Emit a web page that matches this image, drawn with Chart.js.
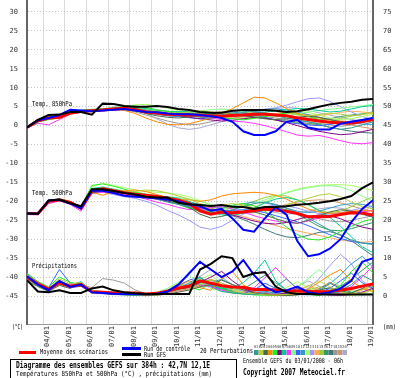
<!DOCTYPE html>
<html>
<head>
<meta charset="utf-8">
<script src="https://cdn.jsdelivr.net/npm/chart.js"></script>
<style>
html, body { margin: 0; padding: 0; background: #fff; overflow: hidden; }
canvas { display: block; }
</style>
</head>
<body>
<canvas id="graphe" width="400" height="378"></canvas>
<script>
// echeances (heures depuis le 03/01 06h)
const heures = [0,12,24,36,48,60,72,84,96,108,120,132,144,156,168,180,192,204,216,228,240,252,264,276,288,300,312,324,336,348,360,372,384];
const jours = ['04/01','05/01','06/01','07/01','08/01','09/01','10/01','11/01','12/01','13/01','14/01','15/01','16/01','17/01','18/01','19/01'];
const heuresJours = [18,42,66,90,114,138,162,186,210,234,258,282,306,330,354,378];
const ticksTemp = [-45,-40,-35,-30,-25,-20,-15,-10,-5,0,5,10,15,20,25,30];
const ticksPrecip = [0,5,10,15,20,25,30,35,40,45,50,55,60,65,70,75];

// Temp. 850hPa
const moyenne850 = [-0.5,1.3,2.0,2.2,3.3,3.7,3.9,4.1,4.4,4.6,4.2,3.6,3.3,3.0,2.9,2.8,2.8,2.6,2.5,2.7,2.8,3.0,3.0,2.8,2.6,2.0,1.6,1.2,0.9,0.7,0.7,1.1,1.6];
const controle850 = [-0.5,1.4,2.0,2.8,4.2,4.0,3.8,4.0,4.2,4.4,4.0,3.6,3.5,3.2,3.0,3.0,2.8,2.5,2.0,1.0,-1.5,-2.5,-2.5,-1.5,1.0,1.5,-0.5,-1.0,-1.0,0.5,1.0,1.5,2.0];
const gfs850 = [-0.5,1.5,2.8,2.9,3.6,3.6,2.9,5.8,5.7,5.2,5.0,5.0,5.2,4.9,4.4,4.1,3.6,3.4,3.4,3.9,4.1,4.1,4.1,3.9,3.6,3.8,4.3,5.0,5.6,6.0,6.3,6.8,7.0];
const membres850 = [
  [-0.6,1.0,1.8,2.4,3.4,3.8,4.0,4.3,4.6,4.9,4.5,4.0,3.6,3.2,3.0,2.5,2.2,2.0,2.4,2.9,3.5,3.8,3.2,2.6,2.0,1.5,1.0,0.4,-0.5,-1.0,-0.6,0.2,1.0],
  [-0.4,1.5,2.2,2.0,3.1,3.6,3.8,4.0,4.5,4.8,4.6,4.1,3.8,3.5,3.3,3.6,3.9,3.6,3.2,3.0,3.4,3.9,4.2,4.0,3.4,2.8,2.6,2.9,3.3,3.0,2.6,2.9,3.4],
  [-0.5,1.2,1.9,2.3,3.5,3.9,4.1,4.2,4.3,4.4,4.0,3.2,2.6,2.2,2.0,2.3,2.6,3.0,3.3,3.1,2.7,2.2,1.8,1.6,1.8,2.2,2.5,2.2,1.6,1.0,0.6,0.9,1.4],
  [-0.5,1.4,2.1,2.2,3.2,3.6,3.8,4.0,4.2,4.0,3.2,2.0,1.0,0.3,0.2,0.5,1.2,2.0,3.2,4.5,6.0,7.5,7.3,6.0,4.5,3.2,2.5,2.0,1.5,1.2,1.0,1.4,2.0],
  [-0.7,0.9,1.6,2.0,3.0,4.0,4.3,4.4,4.6,5.0,5.2,4.8,4.2,3.8,3.4,3.2,3.0,2.6,2.2,1.8,1.5,1.9,2.4,2.9,3.3,3.0,2.4,1.6,1.0,0.6,0.9,1.5,2.2],
  [-0.5,1.3,2.0,2.1,3.3,3.7,3.9,4.2,4.5,4.6,4.3,3.7,3.4,3.1,2.7,2.2,1.8,1.5,1.2,1.4,1.8,2.2,2.0,1.5,0.8,0.0,-0.8,-1.5,-2.0,-2.4,-2.2,-1.6,-1.0],
  [-0.4,1.6,2.3,2.5,3.4,3.7,3.8,4.1,4.4,4.8,4.9,4.5,4.0,3.7,3.6,3.8,3.5,3.0,2.6,2.6,3.0,3.3,3.6,3.9,4.2,4.5,4.4,4.0,3.6,3.8,4.4,5.0,5.3],
  [-0.6,0.6,0.2,1.6,3.0,3.6,3.9,4.0,4.2,4.3,4.1,3.6,3.3,3.0,2.9,2.7,2.4,2.0,1.6,1.2,1.0,0.6,0.0,-0.8,-1.6,-2.5,-2.8,-2.6,-3.2,-4.0,-4.6,-4.8,-4.5],
  [-0.5,1.3,2.0,2.2,3.2,3.9,4.2,4.5,4.8,5.2,5.0,4.4,3.9,3.6,3.5,3.6,3.9,4.2,4.4,4.1,3.6,3.1,2.6,2.4,2.6,3.0,3.6,4.0,4.3,4.6,4.9,5.2,5.6],
  [-0.5,1.1,1.8,2.3,3.6,4.1,4.0,3.9,4.1,4.3,3.9,3.4,3.0,2.6,2.4,2.1,1.8,2.0,2.5,3.0,3.2,2.8,2.2,1.5,0.9,0.5,0.2,0.0,0.3,0.8,1.2,1.5,1.8],
  [-0.5,1.4,2.1,2.0,3.1,3.5,3.8,4.2,4.6,4.9,4.7,4.2,3.9,3.8,3.7,3.4,3.0,2.8,2.9,3.3,3.7,4.0,4.3,4.4,4.1,3.6,2.9,2.2,1.6,1.1,0.7,0.4,0.3],
  [-0.4,1.7,2.4,2.6,3.5,3.9,4.1,4.3,4.6,5.0,5.5,5.6,5.2,4.6,4.0,3.6,3.2,3.0,2.8,2.5,2.2,2.0,2.3,2.8,3.4,3.8,3.5,2.8,2.0,1.6,1.8,2.4,3.0],
  [-0.6,1.0,1.7,2.0,3.0,3.5,3.8,4.0,4.3,4.5,4.3,3.9,3.6,3.3,3.2,3.1,3.3,3.4,3.5,3.6,3.8,4.0,4.3,4.7,5.4,6.3,7.1,7.3,6.4,5.0,3.6,2.4,1.6],
  [-0.5,1.2,1.9,2.2,3.3,3.8,4.0,4.2,4.5,4.7,4.4,3.8,3.5,3.4,3.5,3.7,3.4,2.9,2.4,2.0,1.8,2.0,2.6,3.2,3.6,3.3,2.8,2.6,3.0,3.5,3.8,3.6,3.3],
  [-0.5,1.5,2.2,2.4,3.4,3.8,4.0,4.1,4.3,4.4,4.0,3.5,3.0,2.6,2.4,2.6,3.0,3.4,3.6,3.4,3.0,2.6,2.0,1.4,1.0,0.6,0.3,0.6,1.2,1.9,2.5,3.0,3.4],
  [-0.5,1.3,2.0,2.3,3.3,3.6,3.8,4.0,4.3,4.6,4.5,4.1,3.8,3.5,3.3,3.2,3.0,3.1,3.3,3.6,3.9,3.7,3.3,2.9,2.5,2.0,1.6,1.4,1.8,2.4,2.8,3.1,3.6],
  [-0.5,1.1,1.8,2.1,3.2,3.7,4.0,4.3,4.6,4.8,4.4,3.8,3.2,2.8,2.5,2.4,2.6,2.9,3.1,2.9,2.6,2.3,1.9,1.5,1.2,0.9,0.6,0.2,-0.4,-1.0,-1.5,-1.8,-2.0],
  [-0.6,1.2,1.8,2.1,3.2,3.6,3.9,4.2,4.4,4.2,3.6,2.8,2.0,1.2,0.6,0.2,0.4,1.0,1.6,2.0,2.3,2.6,2.4,2.0,1.6,1.3,1.0,0.6,0.2,-0.2,0.2,0.8,1.4],
  [-0.5,1.4,2.1,2.3,3.3,3.7,3.9,4.1,4.4,4.6,4.2,3.7,3.4,3.2,3.1,3.0,2.7,2.4,2.3,2.6,3.1,3.5,3.4,3.0,2.6,2.3,2.0,1.5,1.0,0.6,0.2,-0.4,-0.8],
  [-0.5,1.2,1.9,2.2,3.2,3.7,4.0,4.4,4.9,5.2,4.6,3.3,1.8,0.4,-0.6,-1.0,-0.6,0.2,1.0,1.8,2.6,3.4,4.0,4.5,4.8,4.6,4.0,3.4,2.8,2.2,1.6,1.2,0.8]
];

// Temp. 500hPa
const moyenne500 = [-23.2,-23.3,-20.0,-19.6,-20.3,-21.8,-17.3,-16.7,-17.2,-17.7,-18.1,-18.4,-18.7,-19.2,-19.7,-20.6,-22.5,-23.4,-22.8,-23.0,-22.8,-22.4,-22.0,-22.3,-22.6,-23.2,-24.1,-24.1,-24.0,-23.5,-23.0,-23.1,-23.6];
const controle500 = [-23.2,-23.3,-19.8,-19.6,-20.6,-21.8,-17.2,-17.2,-17.8,-18.5,-18.8,-19.0,-19.2,-19.5,-20.0,-20.8,-21.2,-22.5,-22.0,-24.5,-27.5,-28.0,-24.5,-21.5,-23.5,-30.5,-34.5,-34.0,-32.5,-30.0,-25.5,-22.0,-19.7];
const gfs500 = [-23.2,-23.3,-19.8,-19.5,-20.5,-21.3,-16.8,-16.8,-17.3,-17.8,-18.2,-18.8,-19.0,-19.0,-20.4,-20.8,-21.0,-21.2,-21.0,-21.4,-21.5,-22.0,-21.5,-21.5,-21.3,-20.9,-20.7,-20.4,-20.0,-19.4,-18.6,-16.5,-15.0];
const membres500 = [
  [-23.2,-23.4,-20.2,-19.8,-20.6,-22.0,-17.5,-16.5,-17.0,-17.6,-18.0,-18.6,-19.4,-20.2,-20.8,-21.4,-22.6,-23.5,-23.0,-22.2,-21.4,-20.6,-20.2,-20.8,-21.8,-23.0,-24.4,-26.0,-27.6,-29.0,-30.2,-31.0,-31.4],
  [-23.2,-23.2,-19.8,-19.5,-20.2,-21.6,-17.0,-16.4,-17.0,-17.3,-17.4,-17.0,-17.2,-17.8,-18.6,-19.4,-20.6,-21.4,-21.0,-20.6,-21.0,-21.8,-22.4,-22.0,-21.0,-20.0,-19.2,-18.4,-18.0,-18.8,-20.2,-21.4,-22.0],
  [-23.3,-23.4,-20.1,-19.7,-20.5,-22.1,-17.8,-17.2,-17.5,-17.8,-18.4,-18.9,-19.0,-19.4,-20.2,-21.6,-23.4,-24.4,-24.0,-23.2,-22.6,-22.8,-23.6,-24.6,-25.4,-25.8,-25.0,-23.8,-22.8,-22.2,-22.6,-23.4,-24.2],
  [-23.2,-23.3,-20.0,-19.6,-20.4,-21.9,-17.6,-18.4,-17.5,-17.2,-17.0,-17.4,-18.2,-19.0,-19.6,-19.6,-20.0,-19.6,-18.6,-18.0,-17.8,-17.6,-17.8,-18.4,-19.4,-20.8,-22.0,-22.8,-23.2,-23.0,-22.6,-22.4,-22.6],
  [-23.2,-23.3,-19.9,-19.4,-20.0,-21.4,-15.8,-15.4,-16.0,-16.8,-17.6,-18.2,-18.8,-19.6,-20.6,-21.8,-22.6,-22.8,-22.0,-21.0,-20.6,-21.2,-22.6,-24.6,-26.8,-28.8,-30.0,-30.2,-29.4,-28.0,-26.6,-25.4,-24.6],
  [-23.2,-23.3,-20.1,-19.7,-20.3,-21.8,-17.4,-16.9,-17.3,-17.9,-18.4,-18.8,-19.3,-19.9,-20.4,-21.0,-21.6,-22.2,-22.8,-23.6,-24.4,-25.2,-25.8,-26.0,-25.6,-24.8,-24.0,-23.6,-23.8,-24.6,-25.8,-26.8,-27.4],
  [-23.2,-23.3,-20.0,-19.6,-20.2,-21.6,-16.6,-16.2,-16.8,-17.4,-18.0,-18.4,-18.6,-18.8,-19.2,-20.0,-21.4,-22.8,-23.6,-23.8,-23.0,-21.8,-20.4,-19.4,-19.0,-19.6,-20.8,-22.4,-24.2,-26.6,-29.4,-32.0,-33.6],
  [-23.2,-23.5,-20.6,-19.9,-20.8,-22.6,-17.8,-17.6,-17.8,-18.2,-18.6,-19.4,-20.2,-20.8,-21.6,-22.2,-22.0,-21.6,-21.4,-22.0,-22.8,-23.8,-24.6,-25.2,-25.6,-25.8,-25.2,-24.4,-23.8,-23.4,-23.0,-22.8,-22.4],
  [-23.2,-23.3,-19.9,-19.5,-20.2,-21.6,-17.0,-16.4,-16.8,-17.2,-17.6,-18.0,-18.4,-18.8,-19.0,-19.4,-20.0,-20.8,-21.6,-22.0,-21.6,-20.6,-19.6,-18.6,-17.8,-17.0,-16.4,-16.0,-15.8,-16.2,-17.2,-18.6,-20.0],
  [-23.2,-23.3,-20.0,-19.6,-20.4,-21.8,-17.4,-17.0,-17.4,-17.9,-18.3,-18.7,-19.0,-19.6,-20.4,-21.2,-21.8,-22.4,-22.6,-22.4,-22.2,-22.4,-23.0,-23.8,-24.6,-25.4,-26.4,-27.6,-28.8,-29.8,-30.6,-31.0,-31.2],
  [-23.2,-23.2,-19.9,-19.6,-20.3,-21.7,-17.2,-16.8,-17.3,-17.6,-17.9,-18.2,-18.5,-19.0,-19.6,-20.2,-20.8,-21.4,-21.6,-21.2,-20.6,-20.2,-20.4,-21.0,-21.8,-22.6,-23.0,-22.6,-21.8,-21.0,-20.6,-20.8,-21.4],
  [-23.2,-23.3,-20.0,-19.6,-20.2,-21.5,-16.2,-15.2,-15.8,-16.4,-17.0,-17.4,-17.6,-17.8,-18.2,-18.8,-19.8,-21.0,-22.0,-22.6,-22.4,-21.6,-20.2,-18.8,-17.6,-16.8,-16.2,-15.8,-15.6,-15.6,-15.8,-16.4,-17.2],
  [-23.2,-23.3,-20.2,-19.8,-20.6,-22.2,-18.0,-17.6,-18.2,-18.8,-19.2,-20.0,-21.0,-22.4,-23.6,-25.0,-26.8,-27.4,-26.6,-25.0,-23.4,-22.2,-21.4,-21.0,-21.2,-21.8,-22.6,-23.2,-23.4,-23.0,-22.4,-21.8,-21.4],
  [-23.2,-23.3,-20.0,-19.6,-20.3,-21.9,-17.6,-17.0,-17.2,-17.4,-17.8,-18.4,-19.0,-19.4,-19.8,-20.4,-21.2,-22.0,-22.8,-23.4,-24.0,-24.8,-25.6,-26.4,-27.2,-27.8,-28.4,-29.0,-29.6,-30.2,-30.6,-30.8,-30.6],
  [-23.2,-23.3,-19.9,-19.5,-20.1,-21.5,-16.8,-16.4,-17.0,-17.5,-17.9,-18.3,-18.7,-19.1,-19.6,-20.2,-21.0,-21.6,-21.8,-21.6,-21.0,-20.0,-19.0,-18.4,-18.6,-19.6,-21.0,-22.4,-23.0,-22.6,-21.4,-20.0,-18.8],
  [-23.2,-23.3,-20.0,-19.6,-20.2,-21.7,-17.1,-16.6,-17.0,-17.5,-18.0,-18.5,-19.0,-19.5,-20.0,-20.6,-21.4,-22.0,-22.4,-22.6,-22.4,-22.0,-21.6,-21.6,-22.2,-23.4,-25.0,-26.6,-27.6,-27.8,-27.2,-26.4,-25.6],
  [-23.2,-23.3,-20.1,-19.7,-20.5,-22.0,-17.6,-17.2,-17.6,-18.0,-18.4,-18.9,-19.4,-20.0,-20.8,-21.8,-22.6,-23.0,-23.2,-23.8,-24.8,-26.0,-27.4,-28.6,-29.4,-29.6,-29.0,-28.2,-28.0,-28.8,-30.4,-32.4,-34.4],
  [-23.2,-23.3,-20.0,-19.6,-20.3,-21.8,-17.4,-17.0,-17.5,-18.0,-18.5,-19.0,-19.5,-20.0,-20.6,-21.4,-22.2,-22.8,-23.2,-23.4,-23.2,-22.8,-22.4,-22.2,-22.4,-23.0,-23.8,-24.6,-25.2,-25.4,-25.0,-24.4,-23.8],
  [-23.2,-23.3,-20.0,-19.6,-20.4,-21.8,-17.3,-16.8,-17.2,-17.7,-18.2,-18.6,-19.0,-19.4,-19.8,-20.4,-21.0,-21.8,-22.6,-23.0,-23.2,-23.0,-22.4,-21.6,-20.8,-20.2,-19.8,-19.6,-19.8,-20.4,-21.2,-22.0,-22.6],
  [-23.2,-23.3,-20.1,-19.8,-20.6,-22.0,-17.8,-17.4,-17.6,-17.8,-18.0,-18.2,-18.6,-19.2,-20.0,-21.0,-22.0,-22.6,-22.4,-21.8,-21.4,-21.6,-22.2,-23.0,-23.4,-23.2,-22.6,-22.0,-21.6,-21.8,-22.4,-23.2,-24.0]
];

// Precipitations (mm)
const moyennePrecip = [5.0,3.2,1.8,3.5,2.6,3.0,1.1,1.0,0.8,0.8,0.8,0.5,0.7,1.3,2.1,2.6,4.0,3.4,2.7,2.4,2.3,1.7,1.7,1.6,1.3,1.3,1.2,1.1,1.2,1.6,2.0,2.6,3.2];
const controlePrecip = [5.2,3.0,1.6,4.0,2.4,3.0,1.0,0.8,0.6,0.5,0.5,0.5,0.6,1.2,3.0,6.0,9.0,7.0,5.0,6.5,9.5,5.5,2.5,1.0,1.5,2.5,1.0,0.5,1.0,2.0,4.0,9.0,10.0];
const gfsPrecip = [4.2,1.2,1.0,1.5,0.8,0.8,2.0,2.5,1.5,1.0,0.7,0.5,0.5,0.5,0.5,0.5,7.0,8.5,10.5,10.0,5.0,6.0,6.3,2.5,1.0,0.5,0.5,0.4,0.4,0.4,0.4,0.4,0.4];
const membresPrecip = [
  [4.5,2.8,1.5,3.8,2.2,2.6,0.8,0.6,0.4,0.3,0.2,0.2,0.4,1.0,1.8,3.5,5.0,2.5,1.2,0.8,0.5,0.4,0.8,2.5,4.5,2.0,0.8,0.4,0.6,1.5,3.0,5.5,4.0],
  [5.5,3.6,2.0,4.5,3.2,3.6,1.5,1.2,1.0,0.8,0.6,0.4,0.3,0.8,1.5,2.0,3.0,4.2,2.8,1.5,0.8,0.5,0.3,0.2,0.4,1.2,2.6,4.0,2.5,1.0,0.6,0.8,1.5],
  [4.0,2.5,1.2,2.8,2.0,3.4,1.2,0.8,0.5,0.3,0.2,0.1,0.2,0.5,1.0,1.6,2.4,3.0,4.2,3.0,1.6,0.8,0.4,0.2,0.1,0.3,0.8,1.5,2.2,1.4,0.8,2.0,3.5],
  [5.2,3.4,2.2,3.0,2.8,3.2,1.0,0.8,0.6,0.5,1.0,0.6,0.4,1.2,2.6,4.0,2.2,1.5,4.5,6.5,3.0,1.0,0.5,0.3,0.2,0.6,1.8,3.6,5.5,7.0,4.0,2.0,1.2],
  [6.0,3.8,2.4,5.0,3.6,3.0,1.4,1.0,0.6,0.4,0.3,0.2,0.5,1.6,3.2,2.4,1.6,3.5,2.0,1.0,0.6,0.3,0.2,0.1,0.3,0.8,0.4,0.2,0.8,2.8,6.5,9.0,6.0],
  [4.8,3.0,1.6,3.2,2.4,3.0,1.1,0.9,0.7,0.6,0.5,0.4,0.6,1.2,1.8,2.2,3.6,5.0,6.5,4.0,2.0,1.0,0.6,0.4,0.8,2.0,1.0,0.5,0.3,0.2,0.4,1.0,2.0],
  [5.4,3.2,1.8,4.0,2.8,3.8,1.3,1.0,0.8,0.6,0.5,0.3,0.4,1.0,2.0,3.0,4.8,3.2,2.0,2.0,3.5,6.0,9.5,4.0,1.5,0.6,0.4,0.3,0.6,1.2,0.6,0.3,0.5],
  [4.6,2.9,1.4,3.4,2.2,2.6,0.9,0.7,0.5,0.4,0.3,0.2,0.3,0.8,1.4,2.0,3.0,2.4,1.6,1.0,0.8,2.2,4.8,7.5,4.5,1.8,0.8,0.4,0.6,1.0,2.5,5.0,8.0],
  [5.0,3.4,2.0,3.6,2.6,2.8,1.0,0.8,0.6,0.4,0.3,0.5,1.0,2.0,3.6,5.5,3.5,2.0,1.2,0.8,0.5,0.3,0.2,0.4,1.0,2.4,4.6,7.0,4.5,2.4,1.2,0.6,0.4],
  [5.6,3.8,2.2,7.0,3.4,3.2,1.2,0.9,0.6,0.4,0.3,0.2,0.4,1.4,2.8,4.2,5.0,3.0,1.6,0.8,0.6,1.6,3.4,2.0,0.8,0.4,0.3,0.8,2.0,4.0,6.0,3.5,2.0],
  [5.0,3.0,1.7,3.8,2.6,3.2,1.0,0.8,0.6,0.5,0.4,0.3,0.5,1.0,1.6,2.2,2.8,3.6,4.4,3.0,2.2,1.6,1.2,0.8,0.5,0.3,0.6,1.4,3.2,5.6,8.5,10.5,7.5],
  [4.4,2.6,1.4,3.0,2.4,2.8,0.9,0.7,0.5,0.4,0.3,0.2,0.4,1.2,2.4,3.0,4.4,5.6,3.2,1.8,1.0,0.6,0.4,1.0,2.2,3.8,2.2,1.0,0.5,0.3,0.2,0.4,0.8],
  [5.8,3.6,2.0,3.6,3.0,3.4,1.2,1.0,0.8,0.6,0.5,0.4,0.6,1.4,2.6,3.2,4.0,3.0,2.2,1.6,1.4,1.2,0.8,0.6,0.4,0.8,2.0,4.5,8.0,11.0,8.5,4.0,2.0],
  [4.8,3.2,1.9,3.4,2.8,2.6,1.0,0.8,0.6,0.4,0.3,0.2,0.3,0.7,1.2,1.8,2.6,3.4,2.6,1.8,1.2,0.8,0.5,0.4,0.6,1.4,2.8,1.6,0.8,0.4,0.6,1.6,3.0],
  [5.2,3.4,2.0,3.8,2.6,3.0,1.2,1.0,0.8,0.6,0.4,0.3,0.6,1.4,2.4,2.8,3.6,4.2,3.0,2.2,1.6,1.0,0.6,0.4,0.4,0.8,1.6,2.4,1.8,1.0,0.8,1.6,2.6],
  [4.6,3.0,1.8,3.2,2.5,3.0,1.1,0.9,0.7,0.5,0.4,0.3,0.4,1.0,1.8,2.4,3.4,2.8,2.0,1.4,1.8,3.6,5.5,3.5,1.6,0.8,0.6,0.8,1.4,2.6,4.4,6.8,9.0],
  [5.0,3.1,1.6,3.3,2.4,3.2,1.0,0.8,0.6,0.5,0.4,0.3,0.5,1.2,2.0,2.6,3.8,3.2,2.4,1.8,1.2,0.8,0.5,0.3,0.2,0.4,0.8,1.8,3.4,2.0,1.0,0.6,0.5],
  [5.2,3.3,1.9,3.6,2.6,3.0,2.2,4.6,4.2,3.4,1.6,0.6,0.4,1.0,1.8,2.4,3.2,2.6,1.8,1.2,0.8,0.5,0.4,0.4,0.6,1.0,1.6,1.2,0.8,0.6,1.0,1.8,2.8],
  [4.9,3.1,1.8,3.5,2.7,2.9,1.1,0.9,0.7,0.5,0.4,0.3,0.5,1.1,1.9,2.6,3.6,4.4,3.4,2.4,1.6,1.0,0.6,0.4,0.3,0.5,1.0,2.0,3.6,2.4,1.4,0.8,0.6],
  [5.3,3.5,2.1,3.7,2.9,3.1,1.3,1.0,0.8,0.6,0.5,0.4,0.6,1.3,2.2,3.0,5.2,7.0,5.0,3.0,2.0,1.4,1.0,0.8,1.2,2.4,4.0,2.6,1.4,0.8,0.5,1.0,2.2]
];

const couleursMembres = ['#339999','#b8cc3c','#4a6a4a','#ff8800','#22ee22','#880088','#00cc99','#ff33ff','#88ff88','#3366ff',
                         '#3399cc','#aaff66','#9999ff','#ffaa55','#99cc33','#339966','#447777','#999999','#cc9966','#aaaacc'];

// echelles : -45..30 °C entre y=296 et y=12, zone de 0 a 324
const pxParDegre = 284 / 75;
const yMax = 30 + 12 / pxParDegre;
const yMin = -45 - 28 / pxParDegre;

const points = serie => heures.map((h, i) => ({ x: h, y: serie[i] }));

const datasets = [];
const principale = (serie, couleur, largeur, axe, ordre) => ({
    data: points(serie), borderColor: couleur, borderWidth: largeur,
    pointRadius: 0, tension: 0, yAxisID: axe, order: ordre, fill: false
});
datasets.push(principale(gfs850, '#000000', 2, 'y', 0));
datasets.push(principale(gfs500, '#000000', 2, 'y', 0));
datasets.push(principale(gfsPrecip, '#000000', 2, 'y2', 0));
datasets.push(principale(controle850, '#0000ff', 2, 'y', 1));
datasets.push(principale(controle500, '#0000ff', 2, 'y', 1));
datasets.push(principale(controlePrecip, '#0000ff', 2, 'y2', 1));
datasets.push(principale(moyenne850, '#ff0000', 3, 'y', 2));
datasets.push(principale(moyenne500, '#ff0000', 3, 'y', 2));
datasets.push(principale(moyennePrecip, '#ff0000', 3, 'y2', 2));
for (let m = 0; m < 20; m++) {
    datasets.push(principale(membres850[m], couleursMembres[m], 1, 'y', 3));
    datasets.push(principale(membres500[m], couleursMembres[m], 1, 'y', 3));
    datasets.push(principale(membresPrecip[m], couleursMembres[m], 1, 'y2', 3));
}

const police = '"DejaVu Sans Mono", monospace';

const textes = {
    id: 'textes',
    afterDraw(chart) {
        const ctx = chart.ctx;
        const ecrire = (txt, x, y, w, taille, gras) => {
            ctx.font = (gras ? 'bold ' : '') + taille + 'px ' + police;
            ctx.fillText(txt, x, y, w);
        };
        ctx.save();
        ctx.fillStyle = '#000';
        ctx.textBaseline = 'middle';
        ctx.textAlign = 'left';
        ecrire('Temp. 850hPa', 32, 104, 40, 7);
        ecrire('Temp. 500hPa', 32, 193, 40, 7);
        ecrire('Précipitations', 32, 266, 45, 7);
        ecrire('(°C)', 12, 327, 11, 7);
        ecrire('(mm)', 383, 327, 13, 7);

        // legende
        ctx.fillStyle = '#ff0000';
        ctx.fillRect(19, 351, 17, 3);
        ctx.fillStyle = '#0000ff';
        ctx.fillRect(122, 347, 19, 3);
        ctx.fillStyle = '#000';
        ctx.fillRect(122, 353, 19, 3);
        ecrire('Moyenne des scénarios', 40, 352, 68, 7);
        ecrire('Run de contrôle', 144, 349, 46, 7);
        ecrire('Run GFS', 144, 355, 22, 7);
        ecrire('20 Perturbations', 200, 351, 53, 7);
        for (let m = 0; m < 20; m++) {
            const x = 254 + m * 4.65;
            ctx.fillStyle = '#333';
            ecrire(String(m + 1).padStart(2, '0'), x, 347, 4.2, 4);
            ctx.fillStyle = couleursMembres[m];
            ctx.fillRect(x, 350, 4.6, 5);
        }

        // cartouche
        ctx.strokeStyle = '#000';
        ctx.lineWidth = 1;
        ctx.strokeRect(10.5, 359.5, 226, 25);
        ctx.fillStyle = '#000';
        ecrire('Diagramme des ensembles GEFS sur 384h : 42,7N 12,1E', 16, 365.5, 194, 8, true);
        ecrire('Températures 850hPa et 500hPa (°C) , précipitations (mm)', 16, 374, 196, 7);
        ecrire('Ensemble GEFS du 03/01/2008 - 06h', 243, 361.5, 100, 7);
        ecrire('Copyright 2007 Meteociel.fr', 243, 373, 102, 8, true);
        ctx.restore();
    }
};

new Chart(document.getElementById('graphe'), {
    type: 'line',
    data: { datasets: datasets },
    options: {
        responsive: false,
        animation: false,
        devicePixelRatio: 1,
        layout: { padding: 0 },
        plugins: { legend: { display: false }, tooltip: { enabled: false } },
        scales: {
            x: {
                type: 'linear', min: 0, max: 384,
                afterBuildTicks: s => { s.ticks = heuresJours.map(v => ({ value: v })); },
                afterFit: s => { s.height = 54; s.paddingLeft = 0; s.paddingRight = 0; },
                ticks: {
                    autoSkip: false, minRotation: 90, maxRotation: 90, padding: 2, labelOffset: 4,
                    color: '#333', font: { family: police, size: 7 },
                    callback: (v, i) => jours[i]
                },
                grid: { color: '#dadada', drawTicks: false },
                border: { color: '#999', width: 1 }
            },
            y: {
                position: 'left', min: yMin, max: yMax,
                afterBuildTicks: s => { s.ticks = ticksTemp.map(v => ({ value: v })); },
                afterFit: s => { s.width = 27; s.paddingTop = 0; s.paddingBottom = 0; },
                ticks: { padding: 9, color: '#333', font: { family: police, size: 7 }, callback: v => v },
                grid: { color: '#c4c4c4', drawTicks: false },
                border: { color: '#666', width: 2, dash: [1, 2] }
            },
            y2: {
                position: 'right', min: yMin + 45, max: yMax + 45,
                afterBuildTicks: s => { s.ticks = ticksPrecip.map(v => ({ value: v })); },
                afterFit: s => { s.width = 27; s.paddingTop = 0; s.paddingBottom = 0; },
                ticks: { padding: 10, color: '#333', font: { family: police, size: 7 }, callback: v => v },
                grid: { display: false, drawTicks: false },
                border: { color: '#666', width: 2 }
            }
        }
    },
    plugins: [textes]
});
</script>
